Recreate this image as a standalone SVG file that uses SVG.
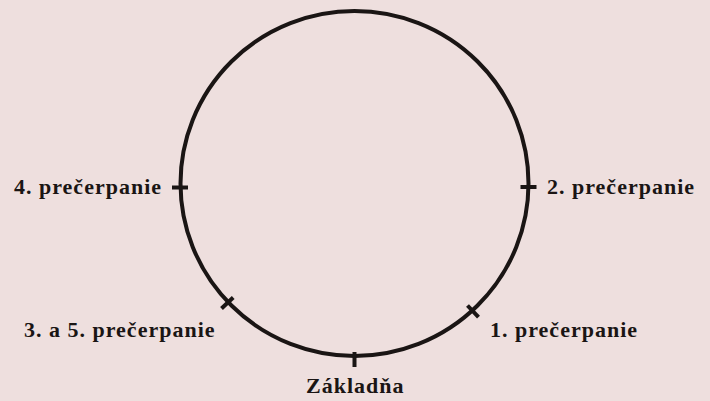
<svg xmlns="http://www.w3.org/2000/svg" width="710" height="401" viewBox="0 0 710 401">
<style>
.ring{fill:none;stroke:#1a1514;stroke-width:4}
.tick{stroke:#1a1514;stroke-width:4;stroke-linecap:butt}
.lbl{font-family:"Liberation Serif","Times New Roman",serif;font-weight:bold;font-size:22px;letter-spacing:1px;fill:#1a1514}
</style>
<rect width="710" height="401" fill="#EEDFDE"/>
<g id="connectors">
<ellipse class="ring" cx="354.5" cy="183.5" rx="174" ry="172.5"/>
</g>
<g id="n4"><line class="tick" x1="172" y1="187.5" x2="188" y2="187.5"/><text class="lbl" x="14" y="194">4. prečerpanie</text></g>
<g id="n2"><line class="tick" x1="520.5" y1="187" x2="536.5" y2="187"/><text class="lbl" x="547" y="194">2. prečerpanie</text></g>
<g id="n35"><line class="tick" x1="221.5" y1="308.5" x2="233.2" y2="297.5"/><text class="lbl" x="24" y="337">3. a 5. prečerpanie</text></g>
<g id="n1"><line class="tick" x1="467.5" y1="305.5" x2="478.5" y2="317.2"/><text class="lbl" x="490" y="337">1. prečerpanie</text></g>
<g id="n0"><line class="tick" x1="354.5" y1="352" x2="354.5" y2="367"/><text class="lbl" x="306" y="393">Základňa</text></g>
</svg>
